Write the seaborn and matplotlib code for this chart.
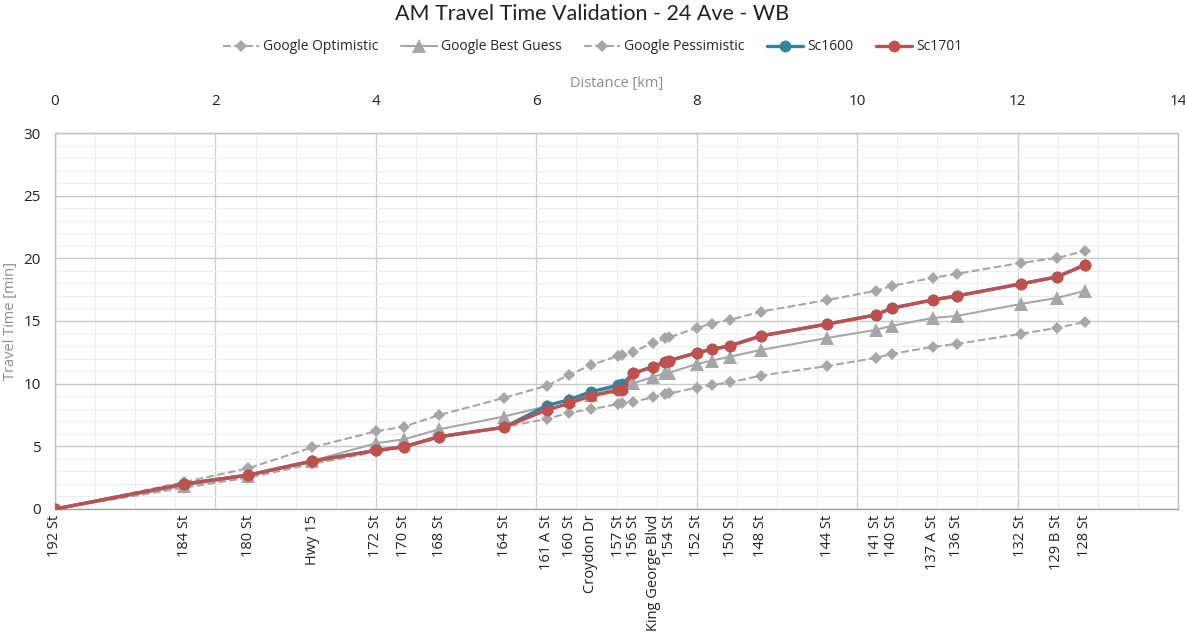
import matplotlib
matplotlib.use("Agg")
import matplotlib.pyplot as plt
import seaborn as sns
import numpy as np
import pandas as pd
from matplotlib.ticker import MultipleLocator

# ---------------- data ----------------
stations = ["192 St", "184 St", "180 St", "Hwy 15", "172 St", "170 St", "168 St",
            "164 St", "161 A St", "160 St", "Croydon Dr", "157 St", "", "156 St",
            "King George Blvd", "", "154 St", "152 St", "", "150 St", "148 St",
            "144 St", "141 St", "140 St", "137 A St", "136 St", "132 St",
            "129 B St", "128 St"]
distance_km = [0.00, 1.61, 2.41, 3.21, 4.00, 4.35, 4.79, 5.60, 6.13, 6.41, 6.68,
               7.02, 7.07, 7.21, 7.46, 7.61, 7.66, 8.00, 8.19, 8.42, 8.80, 9.63,
               10.23, 10.43, 10.94, 11.24, 12.04, 12.49, 12.84]
google_optimistic = [0, 1.70, 2.50, 3.60, 4.55, 4.90, 5.70, 6.55, 7.18, 7.69, 7.95,
                     8.38, 8.43, 8.57, 8.91, 9.15, 9.22, 9.68, 9.90, 10.11, 10.64,
                     11.41, 12.05, 12.37, 12.93, 13.17, 13.97, 14.45, 14.92]
google_best_guess = [0, 1.85, 2.65, 3.85, 5.24, 5.56, 6.36, 7.38, 8.20, 8.70, 9.10,
                     9.70, 9.80, 10.03, 10.56, 10.83, 10.88, 11.57, 11.84, 12.16, 12.69,
                     13.65, 14.29, 14.61, 15.24, 15.40, 16.36, 16.84, 17.40]
google_pessimistic = [0, 2.15, 3.25, 4.92, 6.20, 6.57, 7.50, 8.87, 9.84, 10.69, 11.49,
                      12.21, 12.29, 12.55, 13.27, 13.62, 13.70, 14.45, 14.80, 15.10, 15.75,
                      16.68, 17.40, 17.80, 18.44, 18.76, 19.63, 20.03, 20.59]
sc1600 = [0, 2.00, 2.71, 3.83, 4.67, 4.97, 5.77, 6.52, 8.25, 8.72, 9.36,
          9.87, 9.97, 10.83, 11.36, 11.76, 11.84, 12.47, 12.74, 13.03, 13.81,
          14.76, 15.48, 16.02, 16.68, 17.00, 17.96, 18.52, 19.47]
sc1701 = [0, 2.00, 2.71, 3.83, 4.67, 4.97, 5.77, 6.52, 7.90, 8.43, 9.02,
          9.47, 9.53, 10.83, 11.36, 11.76, 11.84, 12.47, 12.74, 13.03, 13.81,
          14.76, 15.48, 16.02, 16.68, 17.00, 17.96, 18.52, 19.47]

title = "AM Travel Time Validation - 24 Ave - WB"
x_top_label = "Distance [km]"
y_label = "Travel Time [min]"

# ---------------- style ----------------
sns.set_theme(style="white")
plt.rcParams["font.family"] = ["Open Sans", "DejaVu Sans"]

GRAY = "#A6A6A6"
TEAL = "#31849B"
RED = "#C0504D"

fig = plt.figure(figsize=(11.85, 6.41), dpi=100)
W, H = 1185, 641
L, R, T, B = 55, 1178, 133, 509
ax = fig.add_axes([L / W, 1 - B / H, (R - L) / W, (B - T) / H])

series = [
    ("Google Optimistic", google_optimistic, dict(color=GRAY, linestyle="--", marker="D", markersize=6.5, linewidth=1.5)),
    ("Google Best Guess", google_best_guess, dict(color=GRAY, linestyle="-", marker="^", markersize=9.5, linewidth=1.5)),
    ("Google Pessimistic", google_pessimistic, dict(color=GRAY, linestyle="--", marker="D", markersize=6.5, linewidth=1.5)),
    ("Sc1600", sc1600, dict(color=TEAL, linestyle="-", marker="o", markersize=8.5, linewidth=2.4)),
    ("Sc1701", sc1701, dict(color=RED, linestyle="-", marker="o", markersize=8.5, linewidth=2.4)),
]
handles = []
for i, (name, vals, kw) in enumerate(series):
    sns.lineplot(x=distance_km, y=vals, ax=ax, estimator=None, sort=False,
                 markeredgewidth=0, zorder=3 + i, label=name, **kw)
    handles.append(ax.lines[-1])
if ax.get_legend():
    ax.get_legend().remove()

ax.set_xlim(0, 14)
ax.set_ylim(0, 30)

# grid
ax.yaxis.set_major_locator(MultipleLocator(5))
ax.yaxis.set_minor_locator(MultipleLocator(1))
for v in np.arange(0, 14.01, 0.5):
    major = abs(v / 2 - round(v / 2)) < 1e-6
    ax.axvline(v, color="#D0D0D0" if major else "#EDEDED", lw=1.0 if major else 0.8, zorder=0)
ax.grid(axis="y", which="major", color="#C8C8C8", lw=1.0, zorder=0)
ax.grid(axis="y", which="minor", color="#EDEDED", lw=0.8, zorder=0)
ax.set_axisbelow(True)

# bottom station labels
ax.set_xticks(distance_km)
ax.set_xticklabels(stations, rotation=90, fontsize=10.5, color="#222222")
ax.tick_params(axis="x", length=0, pad=4)
ax.tick_params(axis="y", which="both", length=0, pad=10, labelsize=11, labelcolor="#222222")

ax.set_ylabel(y_label, color="#8C8C8C", fontsize=10.5, labelpad=4)
ax.set_xlabel("")

# top numeric distance axis
sec = ax.secondary_xaxis("top")
sec.set_xticks(np.arange(0, 15, 2))
sec.tick_params(length=0, pad=17, labelsize=11, labelcolor="#222222")
sec.set_xlabel(x_top_label, color="#8C8C8C", fontsize=10.5, labelpad=5)
sec.spines["top"].set_visible(False)

for s in ["left", "bottom", "top", "right"]:
    ax.spines[s].set_visible(True)
    ax.spines[s].set_color("#BFBFBF")
    ax.spines[s].set_linewidth(1.0)
ax.spines["bottom"].set_color("#A0A0A0")

fig.text(0.5, 1 - 14 / H, title, ha="center", va="center", fontsize=15.5,
         family=["Lato", "DejaVu Sans"], color="#222222")

fig.legend(handles=handles, labels=[s[0] for s in series], loc="center",
           bbox_to_anchor=(0.5, 1 - 47 / H), ncol=5, frameon=False,
           handlelength=2.6, columnspacing=1.6, handletextpad=0.3,
           prop={"family": ["Open Sans", "DejaVu Sans"], "size": 10})

fig.savefig("out.png", dpi=100, facecolor="white")
